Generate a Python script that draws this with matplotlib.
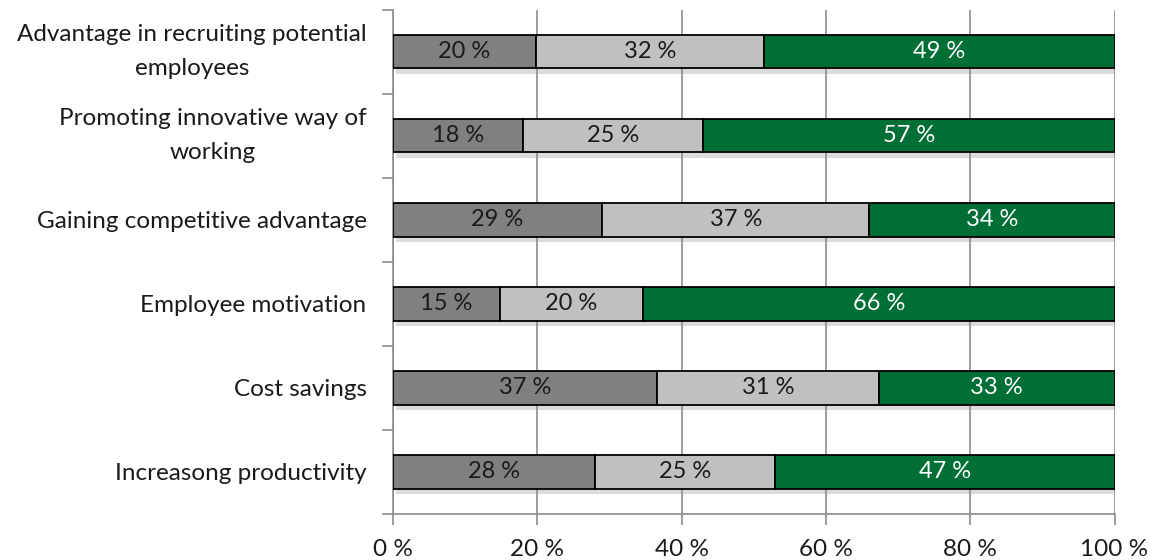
import numpy as np
import matplotlib
matplotlib.use('Agg')
import matplotlib.pyplot as plt
import matplotlib.patheffects as pe

plt.rcParams['font.family'] = ['Lato', 'DejaVu Sans']

categories = ['Advantage in recruiting potential\nemployees',
              'Promoting innovative way of\nworking',
              'Gaining competitive advantage',
              'Employee motivation',
              'Cost savings',
              'Increasong productivity']
low = [20, 18, 29, 15, 37, 28]
mid = [32, 25, 37, 20, 31, 25]
high = [49, 57, 34, 66, 33, 47]
xticks = [0, 20, 40, 60, 80, 100]

colors = ['#808080', '#c0c0c0', '#006f35']
text_colors = ['#1a1a1a', '#1a1a1a', 'white']

fig = plt.figure(figsize=(11.53, 5.6), dpi=100)
ax = fig.add_axes([393/1153, 1-514/560, 721.5/1153, 504.5/560])

data = np.array([low, mid, high], dtype=float)
share = data / data.sum(axis=0) * 100
y = np.arange(len(categories))[::-1]
left = np.zeros(len(categories))
shadow = [pe.SimplePatchShadow(offset=(2, -4), shadow_rgbFace='#888888', alpha=0.3), pe.Normal()]
for k in range(3):
    bars = ax.barh(y, share[k], left=left, height=0.4, color=colors[k],
                   edgecolor='black', linewidth=1.3, zorder=3)
    for b in bars:
        b.set_path_effects(shadow)
    for yi, l, w, v in zip(y, left, share[k], data[k]):
        ax.text(l + w/2, yi, '%d %%' % v, ha='center', va='center',
                fontsize=17, color=text_colors[k], zorder=4)
    left += share[k]

ax.set_xlim(0, 100)
ax.set_ylim(-0.5, len(categories) - 0.5)
ax.set_xticks(xticks)
ax.set_xticklabels(['%d %%' % t for t in xticks], fontsize=17.5, color='#1a1a1a')
ax.set_yticks(y)
ax.set_yticklabels(categories, fontsize=17.5, color='#1a1a1a',
                   multialignment='center', linespacing=1.75)
for lab in ax.get_yticklabels():
    if '\n' in lab.get_text():
        lab.set_va('center')
ax.tick_params(axis='y', length=0, pad=19)
ax.set_yticks(np.arange(-0.5, len(categories), 1), minor=True)
ax.tick_params(axis='y', which='minor', length=8, color='#8c8c8c', width=1.2)
ax.tick_params(axis='x', length=8, color='#8c8c8c', width=1.2, pad=10)
ax.xaxis.grid(True, color='#8c8c8c', linewidth=1.2, zorder=0)
ax.set_axisbelow(True)
for s in ['top', 'right']:
    ax.spines[s].set_visible(False)
for s in ['left', 'bottom']:
    ax.spines[s].set_color('#8c8c8c')
    ax.spines[s].set_linewidth(1.2)

fig.savefig('out.png', dpi=100)
